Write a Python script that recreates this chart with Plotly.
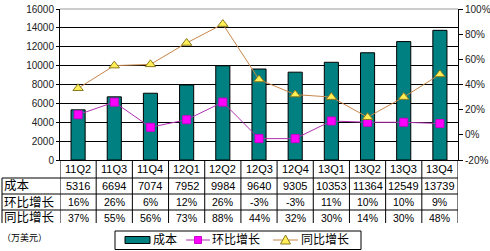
import plotly.graph_objects as go

categories = ["11Q2", "11Q3", "11Q4", "12Q1", "12Q2", "12Q3", "12Q4", "13Q1", "13Q2", "13Q3", "13Q4"]
cost = [5316, 6694, 7074, 7952, 9984, 9640, 9305, 10353, 11364, 12549, 13739]
qoq = [16, 26, 6, 12, 26, -3, -3, 11, 10, 10, 9]
yoy = [37, 55, 56, 73, 88, 44, 32, 30, 14, 30, 48]
row_labels = ["成本", "环比增长", "同比增长"]
left_ticks = [0, 2000, 4000, 6000, 8000, 10000, 12000, 14000, 16000]
right_ticks = [-20, 0, 20, 40, 60, 80, 100]

W, H = 490, 251
L, R, T, B = 60, 32, 9, 91
PH = H - T - B
PW = W - L - R

def py(Y):
    return (H - B - Y) / PH

def px(X):
    return (X - L) / PW

FONT = "Liberation Sans, Noto Sans CJK SC, sans-serif"

BAR_COLOR = "#008080"
QOQ_LINE, QOQ_MK, QOQ_MKL = "#B030B0", "#FF00FF", "#CC00CC"
YOY_LINE, YOY_MK, YOY_MKL = "#C8864A", "#FFEE55", "#8A7A20"

fig = go.Figure()
fig.add_trace(go.Bar(
    x=categories, y=cost, name=row_labels[0],
    marker=dict(color=BAR_COLOR, line=dict(color="#000000", width=1)),
    width=0.39,
))
fig.add_trace(go.Scatter(
    x=categories, y=qoq, name=row_labels[1], yaxis="y2", mode="lines+markers",
    line=dict(color=QOQ_LINE, width=1),
    marker=dict(symbol="square", size=8, color=QOQ_MK, line=dict(color=QOQ_MKL, width=1)),
))
fig.add_trace(go.Scatter(
    x=categories, y=yoy, name=row_labels[2], yaxis="y2", mode="lines+markers",
    line=dict(color=YOY_LINE, width=1),
    marker=dict(symbol="triangle-up", size=9, color=YOY_MK, line=dict(color=YOY_MKL, width=1)),
))

annotations = []
rows_y = [py(169), py(186), py(202), py(217.5)]

def ann(x, y, text, size, xref="x", xanchor="center"):
    return dict(x=x, y=y, xref=xref, yref="paper", text=text, showarrow=False,
                xanchor=xanchor, yanchor="middle",
                font=dict(size=size, family=FONT, color="#000"))

for i, c in enumerate(categories):
    annotations.append(ann(c, rows_y[0], c, 11))
    annotations.append(ann(c, rows_y[1], str(cost[i]), 11))
    annotations.append(ann(c, rows_y[2], f"{qoq[i]}%", 10.5))
    annotations.append(ann(c, rows_y[3], f"{yoy[i]}%", 10.5))
for j, lab in enumerate(row_labels):
    annotations.append(ann(px(2), rows_y[j + 1], lab, 12.5, xref="paper", xanchor="left"))
annotations.append(ann(px(0), py(237), "（万美元）", 9, xref="paper", xanchor="left"))

shapes = []
def line(X0, Y0, X1, Y1, color="#000", width=1):
    return dict(type="line", xref="paper", yref="paper", x0=px(X0), x1=px(X1), y0=py(Y0), y1=py(Y1),
                line=dict(color=color, width=width))

for Y in [178, 194, 210]:
    shapes.append(line(2, Y, 458, Y))
for k in range(len(categories) + 1):
    shapes.append(dict(type="line", xref="x", yref="paper", x0=k - 0.5, x1=k - 0.5, y0=0, y1=py(223),
                       line=dict(color="#000", width=1)))
shapes.append(line(2, 178, 2, 223))
shapes.append(dict(type="line", xref="paper", yref="paper", x0=0, x1=1, y0=1, y1=1,
                   line=dict(color="#999", width=1)))

# legend (drawn manually)
LY = 240
shapes.append(dict(type="rect", xref="paper", yref="paper", x0=px(115), x1=px(361), y0=py(231), y1=py(249.5),
                   line=dict(color="#000", width=1), fillcolor="white", layer="above"))
shapes.append(dict(type="rect", xref="paper", yref="paper", x0=px(125), x1=px(150), y0=py(236.5), y1=py(243.5),
                   line=dict(color="#000", width=1), fillcolor=BAR_COLOR, layer="above"))
shapes.append(dict(line(186, LY, 210, LY, QOQ_LINE), layer="above"))
shapes.append(dict(type="rect", xref="paper", yref="paper", x0=px(194.5), x1=px(201.5), y0=py(236.5), y1=py(243.5),
                   line=dict(color=QOQ_MKL, width=1), fillcolor=QOQ_MK, layer="above"))
shapes.append(dict(line(273, LY, 298, LY, YOY_LINE), layer="above"))
tri = f"M {px(285.5)},{py(235)} L {px(290.5)},{py(244)} L {px(280.5)},{py(244)} Z"
shapes.append(dict(type="path", xref="paper", yref="paper", path=tri,
                   line=dict(color=YOY_MKL, width=1), fillcolor=YOY_MK, layer="above"))
annotations.append(ann(px(151), py(LY), row_labels[0], 12, xref="paper", xanchor="left"))
annotations.append(ann(px(210), py(LY), row_labels[1], 12, xref="paper", xanchor="left"))
annotations.append(ann(px(299), py(LY), row_labels[2], 12, xref="paper", xanchor="left"))

fig.update_layout(
    width=W, height=H,
    margin=dict(l=L, r=R, t=T, b=B, autoexpand=False),
    paper_bgcolor="white", plot_bgcolor="white",
    font=dict(family=FONT, size=10, color="#000"),
    xaxis=dict(type="category", range=[-0.5, len(categories) - 0.5], showticklabels=False,
               showgrid=False, showline=True, linecolor="#000", linewidth=1, ticks="", zeroline=False),
    yaxis=dict(range=[0, 16000], tickvals=left_ticks, ticktext=[str(v) for v in left_ticks],
               showgrid=True, gridcolor="#000", gridwidth=1,
               showline=True, linecolor="#000", linewidth=1, ticks="outside", ticklen=3, tickcolor="#000",
               zeroline=False, tickfont=dict(size=10, color="#222")),
    yaxis2=dict(range=[-20, 100], tickvals=right_ticks, ticktext=[f"{v}%" for v in right_ticks],
                overlaying="y", side="right", showgrid=False, showline=True, linecolor="#000",
                linewidth=1, ticks="outside", ticklen=4, tickcolor="#000", zeroline=False,
                tickfont=dict(size=10, color="#222")),
    showlegend=False,
    annotations=annotations,
    shapes=shapes,
)

fig.write_html("out.html")
